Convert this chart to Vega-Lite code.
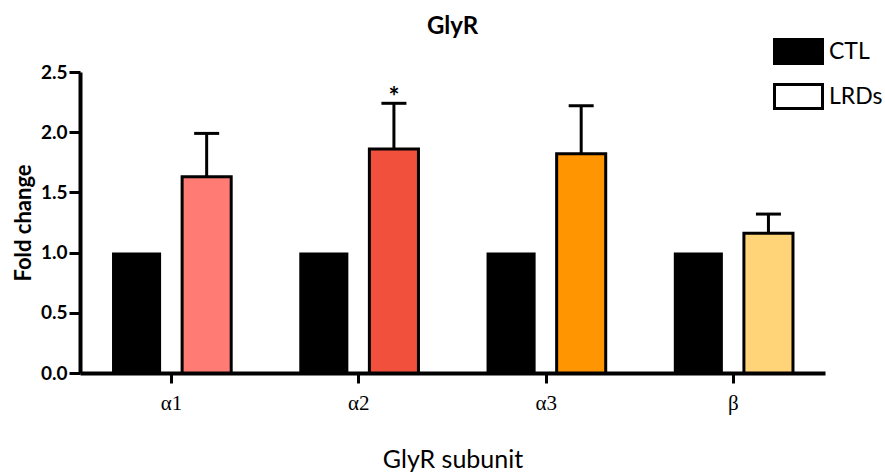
{
  "$schema": "https://vega.github.io/schema/vega-lite/v6.json",
  "width": 745,
  "height": 301,
  "autosize": {"type": "none"},
  "padding": {"left": 80, "top": 72, "right": 60, "bottom": 99},
  "background": "white",
  "title": {
    "text": "GlyR",
    "font": "Lato",
    "fontSize": 24,
    "fontWeight": "bold",
    "color": "black",
    "anchor": "middle",
    "baseline": "alphabetic",
    "offset": -20
  },
  "data": {
    "values": [
      {"subunit": "α1", "group": "CTL", "value": 1.0},
      {"subunit": "α1", "group": "LRDs", "value": 1.63, "upper": 1.99},
      {"subunit": "α2", "group": "CTL", "value": 1.0},
      {"subunit": "α2", "group": "LRDs", "value": 1.86, "upper": 2.24, "sig": "*"},
      {"subunit": "α3", "group": "CTL", "value": 1.0},
      {"subunit": "α3", "group": "LRDs", "value": 1.82, "upper": 2.22},
      {"subunit": "β", "group": "CTL", "value": 1.0},
      {"subunit": "β", "group": "LRDs", "value": 1.16, "upper": 1.32}
    ]
  },
  "encoding": {
    "x": {
      "field": "subunit",
      "type": "nominal",
      "sort": ["α1", "α2", "α3", "β"],
      "scale": {"paddingInner": 0.3636, "paddingOuter": 0.171},
      "title": "GlyR subunit",
      "axis": {
        "labelAngle": 0,
        "labelFont": "Liberation Serif",
        "labelFontSize": 21,
        "labelColor": "black",
        "labelPadding": 9,
        "tickSize": 10,
        "tickWidth": 3,
        "tickColor": "black",
        "domainColor": "black",
        "domainWidth": 4,
        "titleFont": "Lato",
        "titleFontSize": 25,
        "titleFontWeight": "normal",
        "titleColor": "black",
        "titlePadding": 34
      }
    },
    "xOffset": {
      "field": "group",
      "type": "nominal",
      "sort": ["CTL", "LRDs"],
      "scale": {"paddingInner": 0.3, "paddingOuter": 0}
    }
  },
  "layer": [
    {
      "mark": {"type": "bar", "strokeWidth": 0},
      "encoding": {
        "y": {
          "field": "value",
          "type": "quantitative",
          "scale": {"domain": [0, 2.5], "nice": false},
          "title": "Fold change",
          "axis": {
            "values": [0, 0.5, 1, 1.5, 2, 2.5],
            "format": ".1f",
            "grid": false,
            "labelFont": "Lato",
            "labelFontSize": 19,
            "labelFontWeight": "bold",
            "labelColor": "black",
            "labelPadding": 2,
            "tickSize": 11,
            "tickWidth": 3,
            "tickColor": "black",
            "domainColor": "black",
            "domainWidth": 4,
            "titleFont": "Lato",
            "titleFontSize": 22,
            "titleFontWeight": "bold",
            "titleColor": "black",
            "titlePadding": 5
          }
        },
        "fill": {
          "field": "group",
          "type": "nominal",
          "scale": {"domain": ["CTL", "LRDs"], "range": ["#000000", "#ffffff"]},
          "legend": {
            "orient": "none",
            "legendX": 705,
            "legendY": -34,
            "title": null,
            "padding": 0,
            "symbolType": "M-2,-1H2V1H-2Z",
            "symbolSize": 576,
            "symbolStrokeColor": "black",
            "symbolStrokeWidth": 3,
            "labelFont": "Lato",
            "labelFontSize": 23,
            "labelColor": "black",
            "labelOffset": 17,
            "rowPadding": 8
          }
        }
      }
    },
    {
      "transform": [{"filter": "datum.group === 'LRDs'"}],
      "mark": {"type": "bar", "stroke": "black", "strokeWidth": 3},
      "encoding": {
        "y": {"field": "value", "type": "quantitative"},
        "fill": {
          "field": "subunit",
          "type": "nominal",
          "scale": {
            "domain": ["α1", "α2", "α3", "β"],
            "range": ["#FF7B74", "#F0503C", "#FF9500", "#FFD479"]
          },
          "legend": null
        }
      }
    },
    {
      "transform": [{"filter": "datum.group === 'LRDs'"}],
      "mark": {"type": "rule", "color": "black", "strokeWidth": 3},
      "encoding": {
        "y": {"field": "value", "type": "quantitative"},
        "y2": {"field": "upper"}
      }
    },
    {
      "transform": [{"filter": "datum.group === 'LRDs'"}],
      "mark": {"type": "tick", "color": "black", "size": 25, "thickness": 3, "opacity": 1},
      "encoding": {
        "y": {"field": "upper", "type": "quantitative"}
      }
    },
    {
      "transform": [{"filter": "datum.sig"}],
      "mark": {"type": "text", "font": "Lato", "fontSize": 26, "fontWeight": "bold", "color": "black", "baseline": "alphabetic", "dy": 3},
      "encoding": {
        "y": {"field": "upper", "type": "quantitative"},
        "text": {"field": "sig"}
      }
    }
  ],
  "resolve": {"scale": {"fill": "independent"}},
  "config": {
    "view": {"stroke": null},
    "axis": {"grid": false}
  }
}
